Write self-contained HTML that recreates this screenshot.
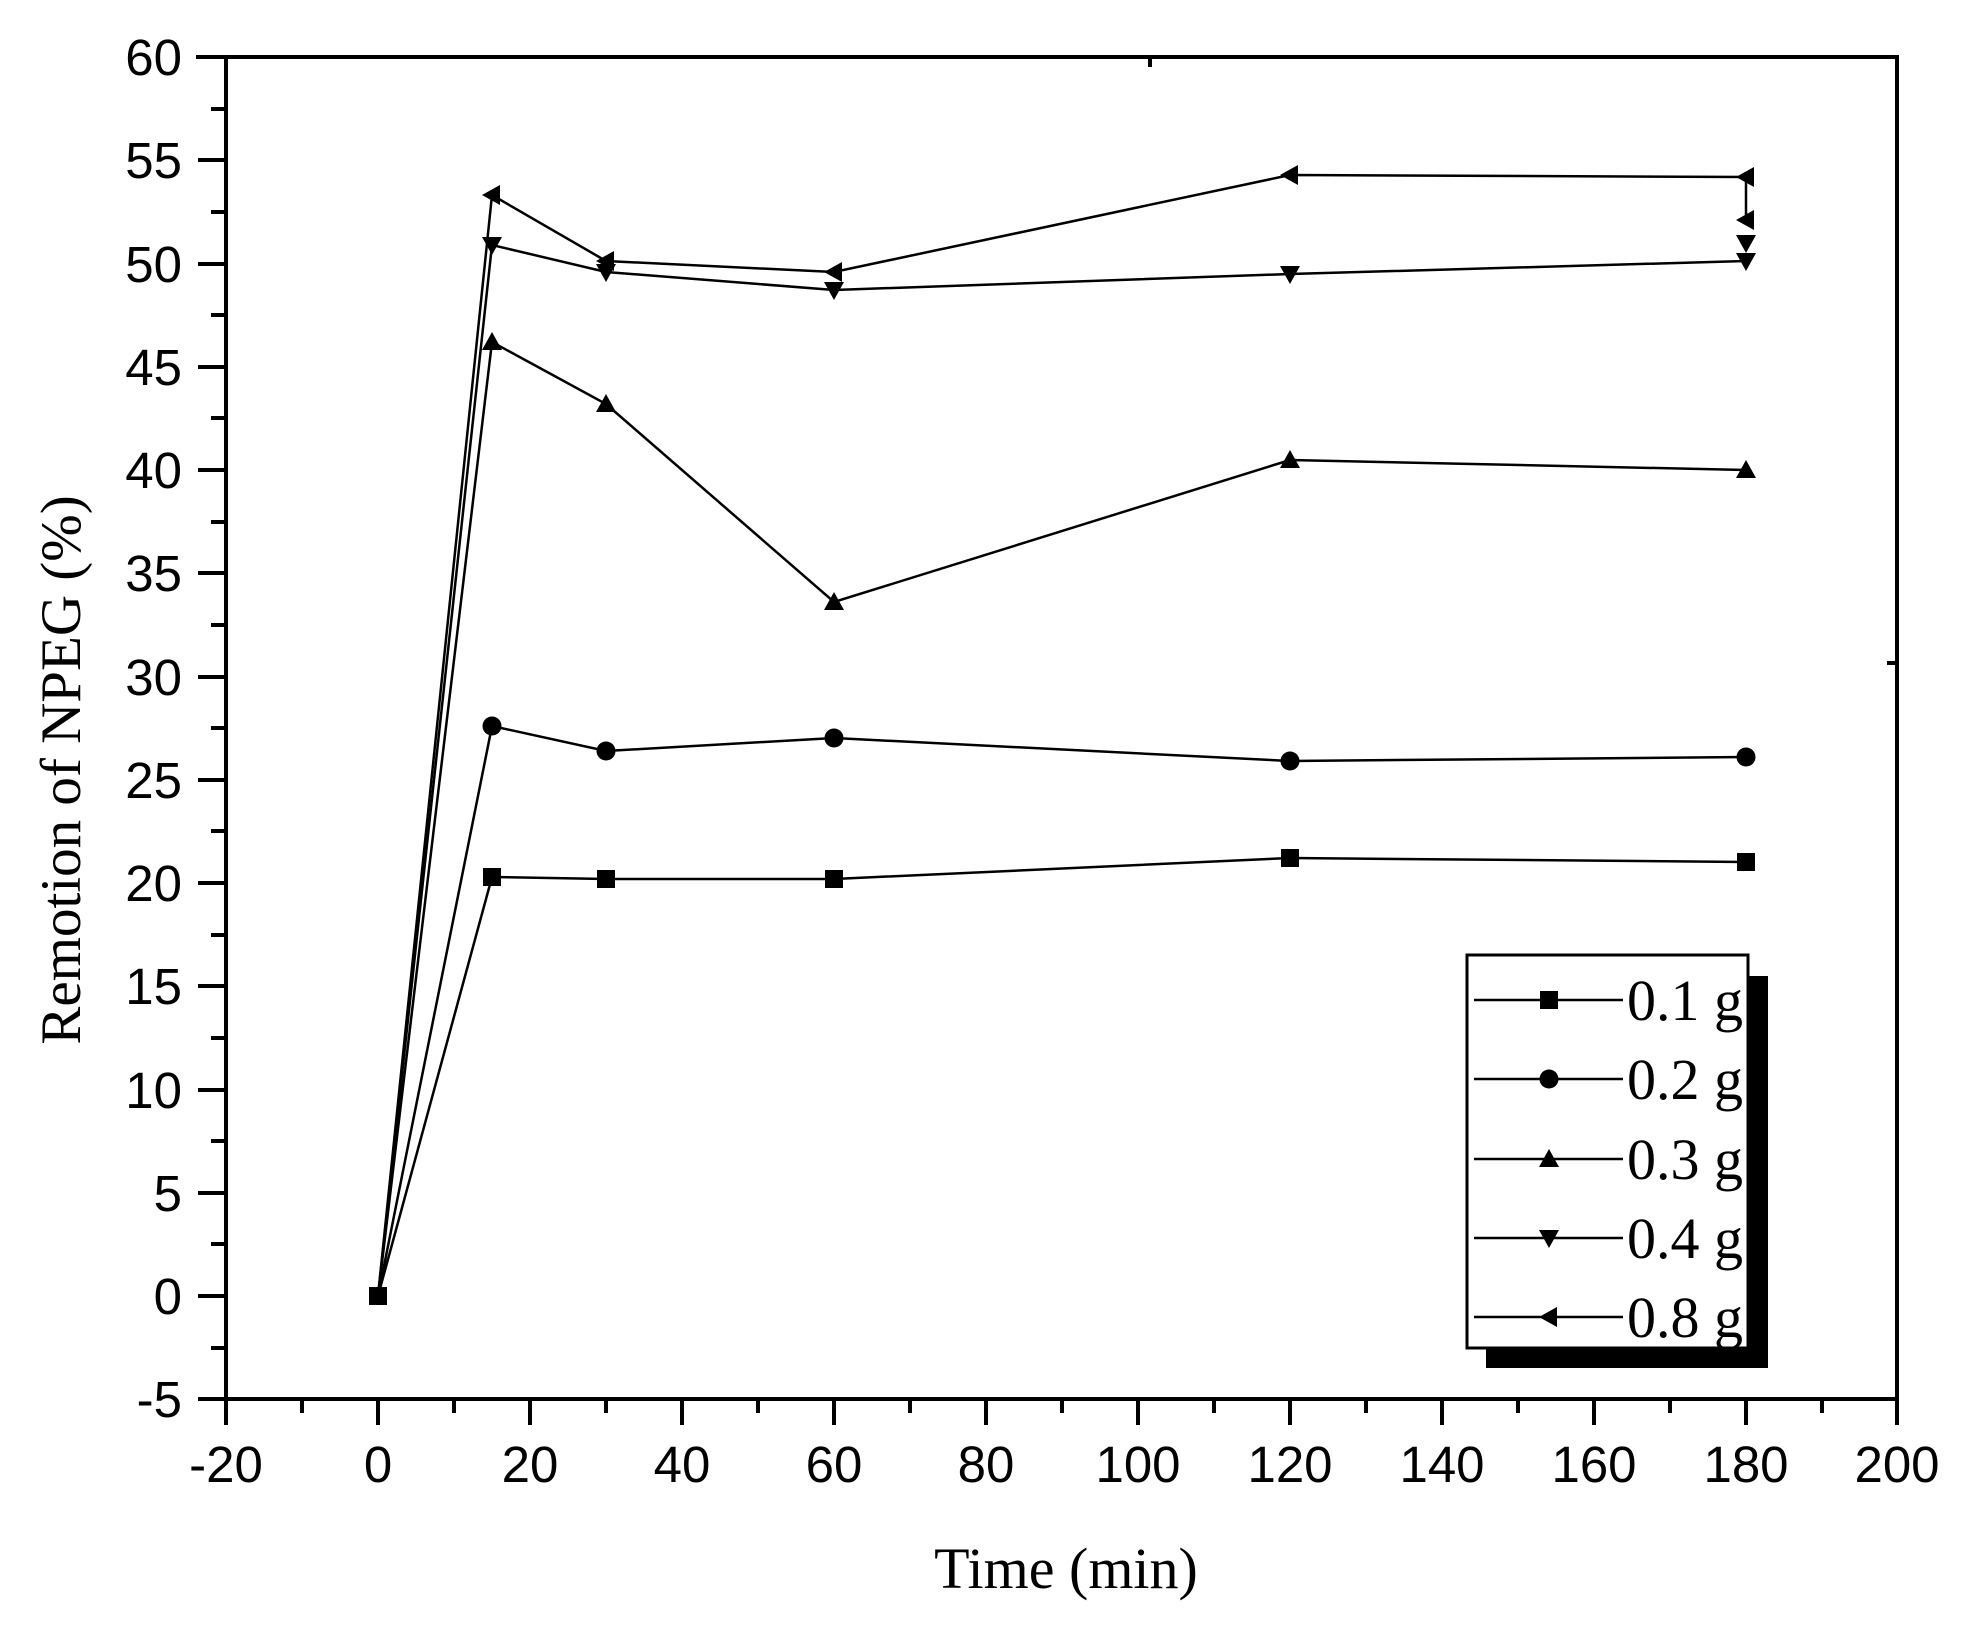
<!DOCTYPE html>
<html><head><meta charset="utf-8"><style>html,body{margin:0;padding:0;background:#fff}</style></head>
<body>
<svg xmlns="http://www.w3.org/2000/svg" width="1963" height="1633" viewBox="0 0 1963 1633">
<defs>
<path id="sq" d="M-9,-9H9V9H-9Z"/>
<circle id="ci" r="9.5"/>
<path id="up" d="M0,-10L10,8H-10Z"/>
<path id="dn" d="M0,10L10,-8H-10Z"/>
<path id="lf" d="M-10,0L8,-10V10Z"/>
</defs>
<g fill="none" stroke="#000" stroke-width="4" stroke-linecap="square">
<path d="M226,57V1399H1897V57H198"/>
<path d="M1150,57v8M1897,663h-8"/>
</g>
<g stroke="#000" stroke-width="4">
<path d="M226,57h-28M226,160h-28M226,264h-28M226,367h-28M226,470h-28M226,573h-28M226,677h-28M226,780h-28M226,883h-28M226,986h-28M226,1090h-28M226,1193h-28M226,1296h-28M226,1399h-28"/>
<path d="M226,109h-15M226,212h-15M226,315h-15M226,418h-15M226,522h-15M226,625h-15M226,728h-15M226,831h-15M226,935h-15M226,1038h-15M226,1141h-15M226,1244h-15M226,1348h-15"/>
<path d="M226,1399v26M378,1399v26M530,1399v26M682,1399v26M834,1399v26M986,1399v26M1138,1399v26M1290,1399v26M1442,1399v26M1594,1399v26M1746,1399v26M1897,1399v26"/>
<path d="M302,1399v14M454,1399v14M606,1399v14M758,1399v14M910,1399v14M1062,1399v14M1214,1399v14M1366,1399v14M1518,1399v14M1670,1399v14M1822,1399v14"/>
</g>
<g font-family="Liberation Sans, sans-serif" font-size="51" text-anchor="end">
<text x="182" y="75">60</text><text x="182" y="178">55</text><text x="182" y="282">50</text><text x="182" y="385">45</text><text x="182" y="488">40</text><text x="182" y="591">35</text><text x="182" y="695">30</text><text x="182" y="798">25</text><text x="182" y="901">20</text><text x="182" y="1004">15</text><text x="182" y="1108">10</text><text x="182" y="1211">5</text><text x="182" y="1314">0</text><text x="182" y="1417">-5</text>
</g>
<g font-family="Liberation Sans, sans-serif" font-size="51" text-anchor="middle">
<text x="226" y="1482">-20</text><text x="378" y="1482">0</text><text x="530" y="1482">20</text><text x="682" y="1482">40</text><text x="834" y="1482">60</text><text x="986" y="1482">80</text><text x="1138" y="1482">100</text><text x="1290" y="1482">120</text><text x="1442" y="1482">140</text><text x="1594" y="1482">160</text><text x="1746" y="1482">180</text><text x="1897" y="1482">200</text>
</g>
<text x="1066" y="1588" font-family="Liberation Serif, serif" font-size="58" text-anchor="middle">Time (min)</text>
<text transform="translate(80,770) rotate(-90)" font-family="Liberation Serif, serif" font-size="57" text-anchor="middle">Remotion of NPEG (%)</text>
<g fill="none" stroke="#000" stroke-width="2.5">
<polyline points="378,1296 492,877 606,879 834,879 1290,858 1746,862"/>
<polyline points="378,1296 492,726 606,751 834,738 1290,761 1746,757"/>
<polyline points="378,1296 492,342 606,404 834,602 1290,460 1746,470"/>
<polyline points="378,1296 492,245 606,272 834,290 1290,274 1746,261"/>
<polyline points="378,1296 492,195 606,261 834,272 1290,175 1746,177 1746,220"/>
</g>
<g fill="#000">
<use href="#sq" x="378" y="1296"/><use href="#sq" x="492" y="877"/><use href="#sq" x="606" y="879"/><use href="#sq" x="834" y="879"/><use href="#sq" x="1290" y="858"/><use href="#sq" x="1746" y="862"/>
<use href="#ci" x="492" y="726"/><use href="#ci" x="606" y="751"/><use href="#ci" x="834" y="738"/><use href="#ci" x="1290" y="761"/><use href="#ci" x="1746" y="757"/>
<use href="#up" x="492" y="342"/><use href="#up" x="606" y="404"/><use href="#up" x="834" y="602"/><use href="#up" x="1290" y="460"/><use href="#up" x="1746" y="470"/>
<use href="#dn" x="492" y="245"/><use href="#dn" x="606" y="272"/><use href="#dn" x="834" y="290"/><use href="#dn" x="1290" y="274"/><use href="#dn" x="1746" y="261"/><use href="#dn" x="1746" y="243"/>
<use href="#lf" x="492" y="195"/><use href="#lf" x="606" y="261"/><use href="#lf" x="834" y="272"/><use href="#lf" x="1290" y="175"/><use href="#lf" x="1746" y="177"/><use href="#lf" x="1746" y="220"/>
</g>
<rect x="1486" y="976" width="282" height="392" fill="#000"/>
<rect x="1467" y="955" width="281" height="393" fill="#fff" stroke="#000" stroke-width="3"/>
<g stroke="#000" stroke-width="2.5">
<path d="M1474,1000h149M1474,1079h149M1474,1159h149M1474,1238h149M1474,1317h149"/>
</g>
<g fill="#000">
<use href="#sq" x="1549" y="1000"/><use href="#ci" x="1549" y="1079"/><use href="#up" x="1549" y="1159"/><use href="#dn" x="1549" y="1238"/><use href="#lf" x="1549" y="1317"/>
</g>
<g font-family="Liberation Serif, serif" font-size="58">
<text x="1627" y="1020">0.1 g</text><text x="1627" y="1099">0.2 g</text><text x="1627" y="1179">0.3 g</text><text x="1627" y="1258">0.4 g</text><text x="1627" y="1337">0.8 g</text>
</g>
</svg>
</body></html>
